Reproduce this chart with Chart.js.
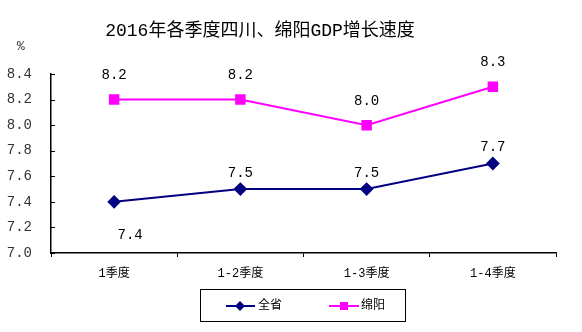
<!DOCTYPE html>
<html>
<head>
<meta charset="utf-8">
<script src="https://cdn.jsdelivr.net/npm/chart.js@4"></script>
<style>
  html, body { margin: 0; padding: 0; background: #fff; }
  #wrap { width: 582px; height: 332px; position: relative; }
</style>
</head>
<body>
<div id="wrap"><canvas id="gdpChart" width="582" height="332"></canvas></div>
<script>
// 季度与增速数据
const quarters = ["1季度", "1-2季度", "1-3季度", "1-4季度"];
const quanSheng = [7.4, 7.5, 7.5, 7.7];
const mianYang = [8.2, 8.2, 8.0, 8.3];
const yTicks = [7.0, 7.2, 7.4, 7.6, 7.8, 8.0, 8.2, 8.4];

const NAVY = "#000080";
const MAGENTA = "#ff00ff";
const MONO = "'Liberation Mono', 'Noto Sans CJK SC'";
const CJK = "'Liberation Mono', 'Noto Sans CJK SC'";

// 标题、单位、数据标签、图例、刻度线
const decorations = {
    id: "decorations",
    afterDraw(chart) {
        const ctx = chart.ctx;
        const area = chart.chartArea;
        ctx.save();

        ctx.fillStyle = "#000";
        ctx.font = "18px " + CJK;
        ctx.textAlign = "center";
        ctx.textBaseline = "middle";
        ctx.fillText("2016年各季度四川、绵阳GDP增长速度", 260, 31);

        ctx.font = "13px " + MONO;
        ctx.fillStyle = "#333";
        ctx.fillText("%", 21, 47);

        // y 轴向内的短刻度
        const y = chart.scales.y;
        ctx.strokeStyle = "#000";
        ctx.lineWidth = 1;
        yTicks.forEach(v => {
            const py = Math.round(y.getPixelForValue(v)) + 0.5;
            ctx.beginPath();
            ctx.moveTo(area.left, py);
            ctx.lineTo(area.left + 4, py);
            ctx.stroke();
        });

        // 数据标签
        ctx.font = "14px " + MONO;
        ctx.fillStyle = "#000";
        ctx.textAlign = "center";
        const m0 = chart.getDatasetMeta(0);
        const m1 = chart.getDatasetMeta(1);
        m0.data.forEach((p, i) => {
            const label = quanSheng[i].toFixed(1);
            if (i === 0) ctx.fillText(label, p.x + 16, p.y + 33);
            else ctx.fillText(label, p.x, p.y - 16);
        });
        m1.data.forEach((p, i) => {
            ctx.fillText(mianYang[i].toFixed(1), p.x, p.y - 24);
        });

        // 图例
        ctx.strokeStyle = "#000";
        ctx.strokeRect(200.5, 289.5, 205, 32);
        const ly = 306;
        ctx.lineWidth = 2;
        ctx.strokeStyle = NAVY;
        ctx.beginPath(); ctx.moveTo(226, ly); ctx.lineTo(255, ly); ctx.stroke();
        ctx.fillStyle = NAVY;
        ctx.beginPath();
        ctx.moveTo(240, ly - 5); ctx.lineTo(245, ly); ctx.lineTo(240, ly + 5); ctx.lineTo(235, ly);
        ctx.closePath(); ctx.fill();
        ctx.strokeStyle = MAGENTA;
        ctx.beginPath(); ctx.moveTo(329, ly); ctx.lineTo(359, ly); ctx.stroke();
        ctx.fillStyle = MAGENTA;
        ctx.fillRect(340, ly - 4, 8, 8);

        ctx.fillStyle = "#000";
        ctx.font = "12px " + CJK;
        ctx.textAlign = "left";
        ctx.fillText("全省", 258, ly);
        ctx.fillText("绵阳", 361, ly);

        ctx.restore();
    }
};

new Chart(document.getElementById("gdpChart"), {
    type: "line",
    data: {
        labels: quarters,
        datasets: [
            {
                label: "全省",
                data: quanSheng,
                borderColor: NAVY,
                backgroundColor: NAVY,
                borderWidth: 2,
                pointStyle: "rectRot",
                pointRadius: 5.5,
                pointHoverRadius: 5.5,
                tension: 0
            },
            {
                label: "绵阳",
                data: mianYang,
                borderColor: MAGENTA,
                backgroundColor: MAGENTA,
                borderWidth: 2,
                pointStyle: "rect",
                pointRadius: 6,
                pointHoverRadius: 6,
                tension: 0
            }
        ]
    },
    options: {
        responsive: false,
        animation: false,
        layout: { padding: { top: 74, right: 26, left: 0, bottom: 0 } },
        plugins: {
            legend: { display: false },
            title: { display: false },
            tooltip: { enabled: false }
        },
        scales: {
            x: {
                offset: true,
                grid: {
                    offset: true,
                    drawOnChartArea: false,
                    tickLength: 4,
                    color: "#000"
                },
                border: { color: "#000", width: 1.5 },
                ticks: {
                    font: { family: CJK, size: 12 },
                    color: "#000",
                    padding: 10
                },
                afterFit(scale) { scale.height = 79; }
            },
            y: {
                min: 7.0,
                max: 8.4,
                afterBuildTicks(scale) {
                    scale.ticks = yTicks.map(v => ({ value: v }));
                },
                grid: { display: false, drawTicks: false },
                border: { color: "#000", width: 1.5 },
                ticks: {
                    font: { family: MONO, size: 14 },
                    color: "#333",
                    padding: 19,
                    callback: v => v.toFixed(1)
                },
                afterFit(scale) { scale.width = 51; }
            }
        }
    },
    plugins: [decorations]
});
</script>
</body>
</html>
